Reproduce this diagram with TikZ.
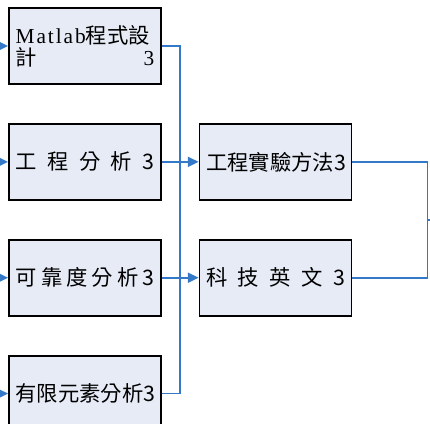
\documentclass[tikz,border=0pt]{standalone}
\usepackage{fontspec}
\setmainfont{Liberation Serif}
\newfontfamily\cjk{Noto Sans CJK TC}
\usetikzlibrary{positioning,arrows.meta,calc}
\definecolor{boxfill}{RGB}{230,235,246}
\definecolor{linkblue}{RGB}{52,120,200}

\begin{document}
\begin{tikzpicture}[x=0.75pt,y=-0.75pt,node distance=28.5pt and 27.5pt,
  box/.style={draw=black,line width=1.4pt,fill=boxfill,align=left,
              font=\fontsize{16}{16.5}\selectfont,inner xsep=4pt,
              text width=104pt,minimum width=114pt,minimum height=57pt},
  link/.style={draw=linkblue,line width=1.3pt},
  feed/.style={link,-{Triangle[length=8pt,width=7.5pt]}}]
\useasboundingbox (0,0) rectangle (430,424);
\coordinate (edge) at (0,0);

% first year
\node[box] (n1) at (85,46) {{\addfontfeature{LetterSpace=9}Matlab}{\cjk 程式設}\\{\cjk 計}\hfill 3};
\node[box,below=of n1] (n2) {\cjk 工\hfill 程\hfill 分\hfill 析\hfill 3};
\node[box,below=of n2] (n3) {\cjk 可\hfill 靠\hfill 度\hfill 分\hfill 析\hfill 3};
\node[box,below=of n3] (n4) {\cjk 有限元素分析3};

% second year
\node[box,right=of n2] (m1) {\cjk 工程實驗方法3};
\node[box,right=of n3] (m2) {\cjk 科\hfill 技\hfill 英\hfill 文\hfill 3};

\foreach \n in {n1,n2,n3,n4}
  \draw[feed] (\n.west -| edge) -- (\n.west);

\coordinate (bus) at ($(n2.east)!.5!(m1.west)$);
\draw[link] (n1.east) -| (bus) |- (n4.east);
\draw[feed] (n2) -- (m1);
\draw[feed] (n3) -- (m2);

\coordinate (join) at ($(m1.east)!.5!(m2.east)+(75,0)$);
\coordinate (out) at (430,0 |- join);
\draw[link] (m1.east) -| (join) |- (m2.east);
\draw[link] (join) -- (join -| out);
\end{tikzpicture}
\end{document}
